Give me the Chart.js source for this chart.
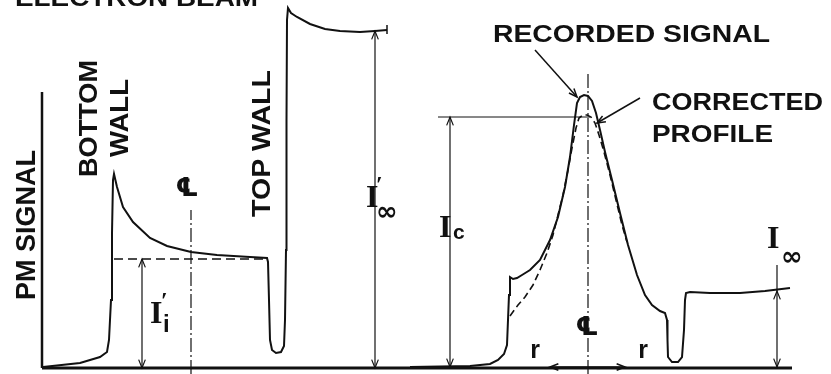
<!DOCTYPE html>
<html lang="en">
<head>
  <meta charset="UTF-8">
  <title>PM Signal Profile</title>
  <style>
    body {
      margin: 0;
      background-color: #fff;
    }
    .wrap {
      width: 831px;
      height: 374px;
      position: relative;
    }
  </style>
</head>
<body>
  <div class="wrap"><canvas id="profile-chart"></canvas></div>

  <script src="https://cdn.jsdelivr.net/npm/chart.js"></script>
  <script>
    // Left trace: bottom wall, channel, top wall (scan position / PM signal)
    const leftScanX = [43, 80, 100, 107, 109, 111, 112, 113, 114, 117, 123, 133, 150, 167, 191, 217, 250, 267,
                       268, 269, 270, 272, 276, 281, 284, 285, 286, 286.5, 287, 288, 291, 297, 310, 325, 340, 360, 375, 387];
    const leftSignal = [1, 5, 11, 16, 28, 68, 135, 188, 194, 181, 161, 146, 130, 122, 116, 113, 111, 110,
                        106, 68, 28, 18, 15, 16, 22, 48, 118, 248, 348, 360, 355, 351, 344, 339, 337, 336, 337, 338];

    // Right trace: recorded signal across the beam
    const rightScanX = [410, 470, 490, 498, 504, 507, 508, 509, 510, 513, 517, 522, 530, 540, 550, 558, 565, 570, 574,
                        577, 580, 584, 588, 592, 596, 600, 605, 612, 620, 628, 637, 645, 652, 660, 665, 667, 667.5, 668,
                        672, 678, 682, 684, 685, 686, 690, 710, 740, 765, 790];
    const rightSignal = [1, 2, 4, 8, 14, 23, 48, 73, 91, 89, 90, 93, 98, 108, 128, 151, 181, 211, 243,
                         265, 271, 273, 272, 267, 255, 238, 216, 188, 155, 123, 93, 73, 63, 57, 55, 48, 28, 11,
                         6, 6, 11, 38, 68, 75, 76, 75, 75, 77, 80];

    // Corrected profile (dashed)
    const correctedX = [510, 518, 525, 533, 540, 547, 553, 558, 563, 568, 572, 576, 579, 583, 587, 591, 595, 599, 604, 610, 616, 622, 627];
    const correctedSignal = [52, 63, 71, 83, 98, 115, 133, 153, 173, 198, 220, 240, 250, 253, 253, 251, 245, 233, 216, 193, 168, 143, 126];

    // Reference levels
    const wallLevel = 109;      // I'i
    const freeStreamTop = 337;  // I'inf
    const centreLevel = 251;    // Ic
    const freeStream = 77;      // Iinf

    const ink = '#111';
    const pts = (xs, ys) => xs.map((v, i) => ({ x: v, y: ys[i] }));
    const seg = (x0, y0, x1, y1) => [{ x: x0, y: y0 }, { x: x1, y: y1 }];

    function head(ctx, tx, ty, ang) {
      const len = 9, spread = 0.38;
      ctx.beginPath();
      ctx.moveTo(tx - len * Math.cos(ang - spread), ty - len * Math.sin(ang - spread));
      ctx.lineTo(tx, ty);
      ctx.lineTo(tx - len * Math.cos(ang + spread), ty - len * Math.sin(ang + spread));
      ctx.stroke();
    }

    function arrow(ctx, x0, y0, x1, y1, both) {
      ctx.beginPath();
      ctx.moveTo(x0, y0);
      ctx.lineTo(x1, y1);
      ctx.stroke();
      const ang = Math.atan2(y1 - y0, x1 - x0);
      head(ctx, x1, y1, ang);
      if (both) head(ctx, x0, y0, ang + Math.PI);
    }

    function fitText(ctx, str, x, y, size, width, rotated) {
      ctx.save();
      ctx.font = 'bold ' + size + 'px "Liberation Sans", Arial, sans-serif';
      ctx.textAlign = 'left';
      ctx.textBaseline = 'alphabetic';
      const w = ctx.measureText(str).width;
      ctx.translate(x, y);
      if (rotated) ctx.rotate(-Math.PI / 2);
      ctx.scale(width / w, 1);
      ctx.fillText(str, 0, 0);
      ctx.restore();
    }

    function plainText(ctx, str, x, y, font, align) {
      ctx.font = font;
      ctx.textAlign = align || 'left';
      ctx.textBaseline = 'alphabetic';
      ctx.fillText(str, x, y);
    }

    const annotate = {
      id: 'annotate',
      afterDatasetsDraw(chart) {
        const ctx = chart.ctx;
        const xs = chart.scales.x, ys = chart.scales.y;
        const X = v => xs.getPixelForValue(v);
        const Y = v => ys.getPixelForValue(v);
        const serif = 'bold 32px "Liberation Serif", "Times New Roman", serif';
        const primeFont = 'bold 24px "Liberation Serif", serif';
        const sub = 'bold 24px "Liberation Sans", Arial, sans-serif';
        const inf = 'bold 26px "DejaVu Sans", sans-serif';

        ctx.save();
        ctx.strokeStyle = ink;
        ctx.fillStyle = ink;
        ctx.lineWidth = 1.2;

        // dimension arrows
        arrow(ctx, X(142), Y(wallLevel), X(142), Y(0), true);
        arrow(ctx, X(375), Y(freeStreamTop), X(375), Y(0), true);
        arrow(ctx, X(450), Y(centreLevel), X(450), Y(1), true);
        ctx.beginPath();
        ctx.moveTo(X(777), Y(103));
        ctx.lineTo(X(777), Y(freeStream));
        ctx.stroke();
        arrow(ctx, X(777), Y(freeStream), X(777), Y(1), true);

        // r arrows
        ctx.lineWidth = 1.6;
        arrow(ctx, X(588), Y(1), X(550), Y(1), false);
        arrow(ctx, X(588), Y(1), X(625), Y(1), false);

        // pointer arrows
        ctx.lineWidth = 1.5;
        arrow(ctx, X(535), Y(318), X(577), Y(271), false);
        arrow(ctx, X(640), Y(270), X(597), Y(245), false);

        // sans labels
        fitText(ctx, 'ELECTRON BEAM', X(15), Y(362), 24, 243, false);
        fitText(ctx, 'RECORDED SIGNAL', X(493), Y(326), 23, 277, false);
        fitText(ctx, 'CORRECTED', X(652), Y(258), 23, 171, false);
        fitText(ctx, 'PROFILE', X(652), Y(226), 23, 121, false);
        fitText(ctx, 'PM SIGNAL', X(35), Y(68), 28, 150, true);
        fitText(ctx, 'BOTTOM', X(97), Y(191), 26, 117, true);
        fitText(ctx, 'WALL', X(128), Y(211), 26, 78, true);
        fitText(ctx, 'TOP WALL', X(270), Y(151), 26, 147, true);

        // centre-line symbols
        plainText(ctx, '\u2104', X(187), Y(172), 'bold 26px "DejaVu Sans", sans-serif', 'center');
        plainText(ctx, '\u2104', X(587), Y(33), 'bold 26px "DejaVu Sans", sans-serif', 'center');

        // r labels
        plainText(ctx, 'r', X(535), Y(10), 'bold 25px "Liberation Sans", Arial, sans-serif', 'center');
        plainText(ctx, 'r', X(643), Y(10), 'bold 25px "Liberation Sans", Arial, sans-serif', 'center');

        // I'i
        plainText(ctx, 'I', X(150), Y(45), serif);
        plainText(ctx, '\u2032', X(161), Y(60), primeFont);
        plainText(ctx, 'i', X(163), Y(36), sub);
        // I'inf
        plainText(ctx, 'I', X(366), Y(161), serif);
        plainText(ctx, '\u2032', X(376), Y(176), primeFont);
        plainText(ctx, '\u221E', X(376), Y(148), inf);
        // Ic
        plainText(ctx, 'I', X(439), Y(131), serif);
        plainText(ctx, 'c', X(453), Y(129), 'bold 21px "Liberation Sans", Arial, sans-serif');
        // Iinf
        plainText(ctx, 'I', X(767), Y(120), serif);
        plainText(ctx, '\u221E', X(781), Y(103), inf);

        ctx.restore();
      }
    };

    new Chart(document.getElementById('profile-chart'), {
      type: 'line',
      data: {
        datasets: [
          { data: seg(42, 0, 792, 0), borderColor: ink, borderWidth: 3 },
          { data: seg(42, 0, 42, 276), borderColor: ink, borderWidth: 2.5 },
          { data: pts(leftScanX, leftSignal), borderColor: ink, borderWidth: 2 },
          { data: pts(rightScanX, rightSignal), borderColor: ink, borderWidth: 2 },
          { data: pts(correctedX, correctedSignal), borderColor: ink, borderWidth: 1.6, borderDash: [7, 4] },
          { data: seg(114, wallLevel, 267, wallLevel), borderColor: ink, borderWidth: 1.6, borderDash: [9, 5] },
          { data: seg(191, -6, 191, 158), borderColor: ink, borderWidth: 1.2, borderDash: [14, 3, 2, 3] },
          { data: seg(588, -6, 588, 296), borderColor: ink, borderWidth: 1.2, borderDash: [14, 3, 2, 3] },
          { data: seg(438, centreLevel, 590, centreLevel), borderColor: ink, borderWidth: 1 },
          { data: seg(387, 334, 387, 343), borderColor: ink, borderWidth: 1.5 }
        ]
      },
      options: {
        responsive: true,
        maintainAspectRatio: false,
        animation: false,
        layout: { padding: 0 },
        plugins: {
          legend: { display: false },
          tooltip: { enabled: false }
        },
        elements: {
          point: { radius: 0 },
          line: { tension: 0, fill: false }
        },
        scales: {
          x: { type: 'linear', min: 0, max: 831, display: false },
          y: { type: 'linear', min: -6, max: 368, display: false }
        }
      },
      plugins: [annotate]
    });
  </script>
</body>
</html>
